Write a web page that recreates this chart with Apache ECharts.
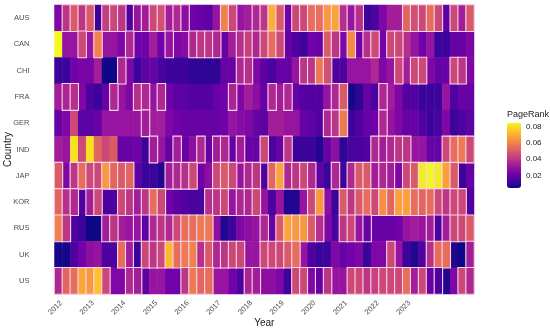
<!DOCTYPE html>
<html>
<head>
<meta charset="utf-8">
<style>html,body{margin:0;padding:0;background:#fff}#c{width:550px;height:328px}</style>
<script src="https://cdn.jsdelivr.net/npm/echarts@6/dist/echarts.min.js"></script>
</head>
<body>
<div id="c"></div>
<script>
const countries = ["AUS","CAN","CHI","FRA","GER","IND","JAP","KOR","RUS","UK","US"];
const yearLabels = ["2012","2013","2014","2015","2016","2017","2018","2019","2020","2021","2022","2023"];
const AUS = [.025,.04,.05,.04,.05,.012,.042,.045,.04,.015,.03,.033,.045,.047,.033,.036,.028,.022,.02,.018,.03,.06,.045,.03,.033,.036,.04,.07,.05,.022,.045,.045,.055,.055,.065,.068,.038,.03,.038,.012,.015,.025,.033,.033,.053,.047,.045,.055,.045,.018,.045,.033,.05];
const CAN = [.085,.03,.03,.045,.03,.06,.03,.03,.025,.036,.022,.022,.033,.022,.03,.025,.027,.036,.04,.04,.036,.02,.033,.038,.043,.036,.045,.055,.045,.02,.015,.012,.022,.02,.05,.04,.025,.062,.022,.038,.045,.022,.045,.045,.038,.03,.022,.03,.012,.012,.02,.02,.025];
const CHI = [.012,.012,.022,.024,.024,.033,.005,.005,.036,.025,.012,.018,.02,.014,.012,.012,.012,.01,.01,.01,.01,.02,.02,.036,.038,.025,.018,.014,.02,.02,.03,.04,.04,.058,.047,.015,.015,.03,.03,.03,.036,.025,.03,.045,.033,.045,.045,.025,.02,.02,.045,.04,.025];
const FRA = [.033,.035,.038,.025,.015,.012,.02,.036,.03,.025,.038,.036,.03,.036,.022,.018,.018,.016,.016,.016,.02,.022,.035,.025,.033,.028,.02,.036,.033,.036,.02,.016,.016,.016,.03,.036,.05,.006,.01,.02,.014,.036,.033,.025,.016,.016,.012,.012,.012,.03,.015,.02,.02];
const GER = [.02,.025,.045,.018,.018,.02,.03,.03,.03,.03,.03,.033,.033,.033,.025,.022,.02,.02,.02,.02,.02,.022,.03,.027,.025,.02,.018,.033,.033,.03,.03,.02,.018,.016,.036,.04,.058,.012,.015,.02,.022,.036,.03,.025,.02,.02,.016,.012,.014,.025,.012,.015,.018];
const IND = [.033,.03,.08,.045,.08,.053,.045,.05,.02,.02,.022,.012,.033,.03,.02,.033,.02,.028,.036,.02,.033,.036,.02,.033,.02,.02,.045,.015,.02,.04,.012,.012,.012,.008,.02,.028,.01,.014,.014,.016,.036,.033,.036,.04,.04,.03,.03,.02,.02,.045,.055,.058,.045];
const JAP = [.05,.025,.04,.055,.045,.045,.065,.053,.05,.053,.018,.012,.012,.008,.033,.036,.038,.045,.022,.028,.045,.05,.045,.03,.036,.04,.015,.053,.068,.036,.04,.045,.036,.018,.012,.036,.012,.036,.05,.05,.033,.036,.033,.025,.045,.05,.082,.084,.082,.067,.05,.012,.02];
const KOR = [.053,.038,.036,.015,.033,.045,.015,.015,.045,.04,.033,.04,.055,.045,.022,.018,.016,.014,.014,.038,.04,.045,.03,.036,.036,.045,.03,.015,.03,.008,.008,.03,.045,.065,.028,.012,.05,.04,.05,.055,.045,.063,.053,.067,.067,.055,.053,.055,.045,.04,.045,.045,.015];
const RUS = [.06,.04,.015,.012,.005,.005,.033,.04,.033,.03,.03,.018,.036,.04,.036,.045,.055,.055,.058,.058,.028,.008,.012,.025,.028,.03,.036,.02,.05,.068,.065,.065,.05,.038,.025,.015,.04,.045,.03,.02,.02,.02,.02,.022,.03,.033,.03,.033,.015,.033,.045,.045,.05];
const UK = [.006,.006,.015,.022,.028,.03,.015,.015,.055,.033,.012,.045,.04,.045,.072,.055,.058,.06,.038,.05,.036,.04,.045,.045,.03,.03,.045,.045,.045,.05,.055,.03,.015,.012,.012,.025,.02,.022,.025,.012,.025,.025,.045,.03,.012,.008,.015,.038,.055,.055,.008,.005,.033];
const US = [.036,.053,.055,.068,.065,.074,.045,.025,.025,.036,.033,.018,.03,.03,.022,.022,.04,.058,.053,.055,.03,.03,.022,.015,.035,.033,.028,.028,.025,.012,.045,.045,.025,.02,.04,.03,.03,.045,.045,.04,.043,.045,.045,.045,.055,.033,.045,.02,.015,.008,.025,.045,.036];
const outlinedAUS = [1,2,3,4,6,7,8,10,11,12,13,14,15,16,21,22,25,26,27,28,30,31,32,33,34,35,36,37,38,44,45,46,47,48,50,51,52];
const outlinedCAN = [3,5,9,14,17,18,19,20,23,24,25,26,27,28,34,35,37,39,40,42,43];
const outlinedCHI = [8,23,24,31,32,33,34,43,45,46,50,51];
const outlinedFRA = [1,2,7,10,11,13,22,27,29,35,36,41];
const outlinedGER = [11,34,35,36,41];
const outlinedIND = [12,15,18,20,21,23,26,29,40,41,42,43,44,49,50,51,52];
const outlinedJAP = [0,2,3,4,5,6,7,8,9,14,15,16,17,20,21,22,24,25,27,28,29,30,31,32,35,37,38,39,40,41,42,43,44,45,46,47,48,49,50];
const outlinedKOR = [0,1,2,4,5,8,9,10,11,12,13,19,20,21,22,23,24,25,32,33,36,37,38,39,40,41,42,43,44,45,46,47,48,49,50,51];
const outlinedRUS = [0,1,6,7,10,11,12,13,14,15,16,17,18,19,26,28,29,30,31,32,33,36,37,38,39,47,48,49,50,51,52];
const outlinedUK = [8,9,10,11,12,13,14,15,16,17,18,19,20,21,22,23,26,27,28,29,30,42,47,48,49,52];
const outlinedUS = [0,1,2,3,4,5,6,9,10,16,17,18,19,24,25,30,31,32,33,34,37,38,39,40,41,42,43,44,45,46,47,48,51,52];
const values = [AUS,CAN,CHI,FRA,GER,IND,JAP,KOR,RUS,UK,US];
const outlined = [outlinedAUS,outlinedCAN,outlinedCHI,outlinedFRA,outlinedGER,outlinedIND,outlinedJAP,outlinedKOR,outlinedRUS,outlinedUK,outlinedUS];
const legendTicks = [0.02,0.04,0.06,0.08];

const columns = AUS.map((_, i) => (i % 4 === 0 && yearLabels[i / 4]) || "");
const cells = [];
const rings = [];
values.forEach((row, r) => row.forEach((v, c) => {
  cells.push([c, r, v]);
  if (outlined[r].includes(c)) rings.push([c, r, v]);
}));

const font = '"Liberation Sans", Arial, sans-serif';
const chart = echarts.init(document.getElementById('c'), null, {renderer:'canvas'});
chart.setOption({
  animation:false,
  backgroundColor:'#fff',
  title:{text:'PageRank',left:507,top:110,padding:0,textStyle:{fontFamily:font,fontSize:9,fontWeight:'normal',color:'#1a1a1a'}},
  grid:[
    {left:54.5,right:76,top:5,bottom:34,outerBoundsMode:'none'},
    {left:507,width:14,top:122.7,height:65.3,z:10,outerBoundsMode:'none'}
  ],
  xAxis:[
    {type:'category',gridIndex:0,data:columns,
     axisLine:{show:false},axisTick:{show:false},splitLine:{show:false},
     axisLabel:{interval:(i)=>i%4===0,rotate:45,fontSize:7.5,color:'#4d4d4d',fontFamily:font,margin:5,verticalAlign:'top'},
     name:'Year',nameLocation:'middle',nameGap:24,nameMoveOverlap:false,nameTextStyle:{fontFamily:font,fontSize:10,color:'#1a1a1a'}},
    {type:'value',gridIndex:1,show:false,min:0,max:1}
  ],
  yAxis:[
    {type:'category',gridIndex:0,data:countries,inverse:true,
     axisLine:{show:false},axisTick:{show:false},splitLine:{show:false},
     axisLabel:{fontSize:7.5,color:'#4d4d4d',fontFamily:font,margin:25},
     name:'Country',nameLocation:'middle',nameGap:41,nameMoveOverlap:false,nameTextStyle:{fontFamily:font,fontSize:10,color:'#1a1a1a'}},
    {type:'value',gridIndex:1,position:'right',min:0.0048,max:0.0844,z:20,
     axisLine:{show:false},splitLine:{show:false},
     axisTick:{show:true,inside:true,length:3,lineStyle:{color:'#fff',width:0.6},customValues:legendTicks},
     axisLabel:{fontSize:8,color:'#1a1a1a',fontFamily:font,margin:5,customValues:legendTicks,formatter:(v)=>v.toFixed(2)}}
  ],
  visualMap:{type:'continuous',min:0.0048,max:0.0844,dimension:2,seriesIndex:[0,1],calculable:false,
    left:507,top:122.7,itemWidth:14,itemHeight:65.3,text:[],padding:0,
    inRange:{color:['#0d0887','#47039f','#7301a8','#9c179e','#bd3786','#d8576b','#ed7953','#fb9f3a','#fdca26','#f0f921']}},
  series:[
    {type:'heatmap',data:cells,itemStyle:{borderWidth:0},emphasis:{disabled:true},z:2},
    {type:'heatmap',data:rings,itemStyle:{borderColor:'#fbd3ec',borderWidth:1.1},emphasis:{disabled:true},z:3}
  ]
});
</script>
</body>
</html>
